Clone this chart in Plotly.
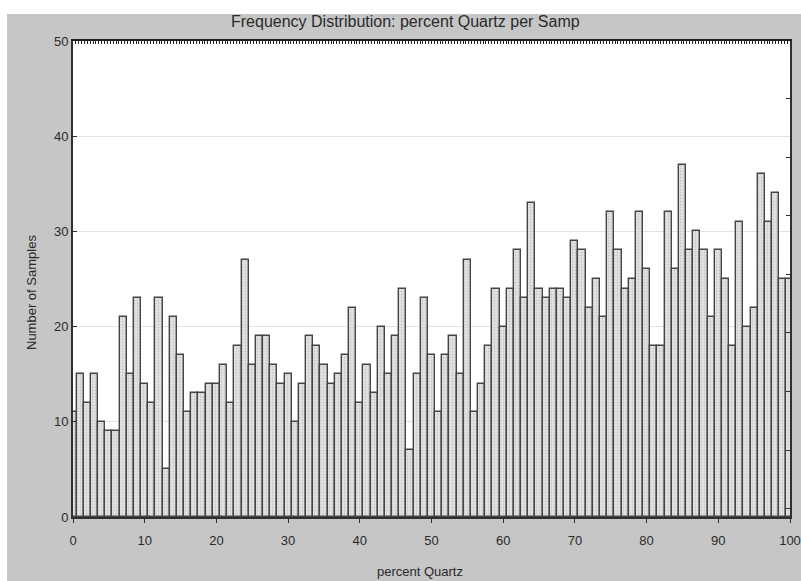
import plotly.graph_objects as go

# Data
percent_quartz = list(range(0, 101))
num_samples = [
    11,
    15, 12, 15, 10, 9, 9, 21, 15, 23, 14,
    12, 23, 5, 21, 17, 11, 13, 13, 14, 14,
    16, 12, 18, 27, 16, 19, 19, 16, 14, 15,
    10, 14, 19, 18, 16, 14, 15, 17, 22, 12,
    16, 13, 20, 15, 19, 24, 7, 15, 23, 17,
    11, 17, 19, 15, 27, 11, 14, 18, 24, 20,
    24, 28, 23, 33, 24, 23, 24, 24, 23, 29,
    28, 22, 25, 21, 32, 28, 24, 25, 32, 26,
    18, 18, 32, 26, 37, 28, 30, 28, 21, 28,
    25, 18, 31, 20, 22, 36, 31, 34, 25, 25,
]
x_ticks = [0, 10, 20, 30, 40, 50, 60, 70, 80, 90, 100]
y_ticks = [0, 10, 20, 30, 40, 50]

title_text = "Frequency Distribution: percent Quartz per Samp"
x_title = "percent Quartz"
y_title = "Number of Samples"

FONT = "Liberation Sans, Arial, sans-serif"
GRAY_BG = "#c6c6c6"
AXIS = "#303030"
PW, PH = 717, 476  # plot area size in px
ML, MR, MT, MB = 73, 11, 41, 64

fig = go.Figure()
fig.add_trace(go.Bar(
    x=percent_quartz,
    y=num_samples,
    width=1.0,
    marker=dict(
        color="#dadada",
        line=dict(color="#454545", width=1.4),
        pattern=dict(shape=".", fgcolor="#a8a8a8", bgcolor="#e4e4e4",
                     size=3, solidity=0.3),
    ),
    hoverinfo="x+y",
    showlegend=False,
))

fig.update_layout(
    width=801, height=581,
    margin=dict(l=ML, r=MR, t=MT, b=MB, autoexpand=False),
    paper_bgcolor=GRAY_BG,
    plot_bgcolor="white",
    font=dict(family=FONT, size=13, color="#2a2a2a"),
    bargap=0,
    showlegend=False,
    xaxis=dict(
        range=[0, 100], tickvals=x_ticks, ticktext=[str(v) for v in x_ticks],
        ticks="outside", ticklen=4, tickcolor=AXIS, tickwidth=1,
        ticklabelstandoff=6, automargin=False,
        showline=True, linecolor=AXIS, linewidth=2,
        showgrid=False, zeroline=False,
        tickfont=dict(size=13),
    ),
    yaxis=dict(
        range=[0, 50], tickvals=y_ticks, ticktext=[str(v) for v in y_ticks],
        ticks="inside", ticklen=4, tickcolor=AXIS, automargin=False,
        showline=True, linecolor=AXIS, linewidth=2,
        showgrid=True, gridcolor="#e2e2e2", gridwidth=1,
        zeroline=False,
        tickfont=dict(size=13),
    ),
    xaxis2=dict(
        overlaying="x", side="top", anchor="y", range=[0, 100],
        tickmode="linear", tick0=0, dtick=0.4, automargin=False,
        ticks="inside", ticklen=3, tickwidth=1.2, tickcolor="#202020",
        showticklabels=False, showline=True, linecolor="#202020", linewidth=2,
        showgrid=False, zeroline=False,
    ),
    yaxis2=dict(
        overlaying="y", side="right", anchor="x", range=[-0.145, 7.99],
        tickmode="linear", tick0=0, dtick=1, automargin=False,
        ticks="inside", ticklen=4, tickcolor=AXIS,
        showticklabels=False, showline=True, linecolor=AXIS, linewidth=2,
        showgrid=False, zeroline=False,
    ),
    annotations=[
        dict(text=title_text, xref="paper", yref="paper",
             x=(405 - ML) / PW, y=1 + (MT - 22) / PH,
             xanchor="center", yanchor="middle",
             showarrow=False, font=dict(size=16, color="#2a2a2a")),
        dict(text=x_title, xref="paper", yref="paper",
             x=(420 - ML) / PW, y=-(571 - (MT + PH)) / PH,
             xanchor="center", yanchor="middle",
             showarrow=False, font=dict(size=13, color="#2a2a2a")),
        dict(text=y_title, xref="paper", yref="paper", textangle=-90,
             x=-(ML - 31) / PW, y=1 - (293 - MT) / PH,
             xanchor="center", yanchor="middle",
             showarrow=False, font=dict(size=13, color="#2a2a2a")),
    ],
    shapes=[
        dict(type="rect", xref="paper", yref="paper",
             x0=-ML / PW, x1=1 + MR / PW, y0=1 + (MT - 14) / PH, y1=1 + MT / PH,
             fillcolor="white", line=dict(width=0), layer="below"),
        dict(type="rect", xref="paper", yref="paper",
             x0=-ML / PW, x1=-(ML - 7) / PW, y0=-MB / PH, y1=1 + MT / PH,
             fillcolor="white", line=dict(width=0), layer="below"),
    ],
)

# invisible traces so the secondary axes are drawn
fig.add_trace(go.Scatter(x=[None], y=[None], xaxis="x2", yaxis="y",
                         showlegend=False, hoverinfo="skip"))
fig.add_trace(go.Scatter(x=[None], y=[None], xaxis="x", yaxis="y2",
                         showlegend=False, hoverinfo="skip"))

fig.write_html(
    "out.html",
    config={"displayModeBar": False},
    post_script="document.body.style.margin='0';document.body.style.padding='0';"
                "document.body.style.overflow='hidden';",
)
